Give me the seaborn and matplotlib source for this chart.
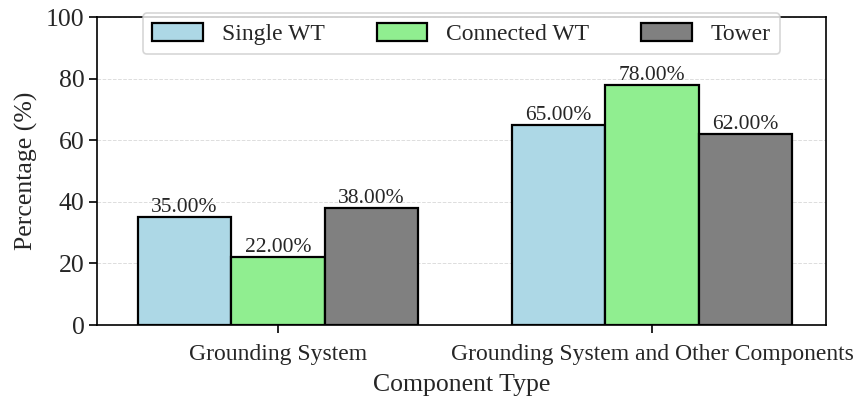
import matplotlib
matplotlib.use("Agg")
import matplotlib.pyplot as plt
import seaborn as sns
import pandas as pd

categories = ["Grounding System", "Grounding System and Other Components"]
series_names = ["Single WT", "Connected WT", "Tower"]
single_wt = [35, 65]
connected_wt = [22, 78]
tower = [38, 62]
colors = ["#ADD8E6", "#90EE90", "#808080"]

rows = []
for name, vals in zip(series_names, [single_wt, connected_wt, tower]):
    for c, v in zip(categories, vals):
        rows.append({"Component Type": c, "Series": name, "Percentage": v})
df = pd.DataFrame(rows)

sns.set_theme(style="white")
plt.rcParams["font.family"] = ["Liberation Serif", "DejaVu Serif"]

fig = plt.figure(figsize=(8.6, 4.01), dpi=100)
ax = fig.add_axes([97/860, 1 - 325/401, (826-97)/860, (325-17)/401])

sns.barplot(data=df, x="Component Type", y="Percentage", hue="Series",
            hue_order=series_names, palette=colors, order=categories,
            saturation=1, width=0.75, edgecolor="black", linewidth=1.6,
            ax=ax, zorder=3)

for cont in ax.containers:
    ax.bar_label(cont, fmt="%.2f%%", fontsize=15.5, padding=0)

ax.set_ylim(0, 100)
ax.set_xlim(-0.484, 1.465)
ax.set_yticks([0, 20, 40, 60, 80, 100])
ax.yaxis.grid(True, linestyle="--", color="#dddddd", linewidth=0.7, zorder=0)
ax.set_axisbelow(True)
ax.tick_params(axis="both", length=6, width=1.2, color="black",
               bottom=True, left=True, pad=3)
ax.tick_params(axis="y", labelsize=18.5)
ax.tick_params(axis="x", labelsize=17, pad=8)
ax.set_xlabel("Component Type", fontsize=18.5, labelpad=6)
ax.set_ylabel("Percentage (%)", fontsize=18.5, labelpad=6)
for s in ax.spines.values():
    s.set_color("black")
    s.set_linewidth(1.2)

leg = ax.legend(loc="upper center", bbox_to_anchor=(0.5, 1.012), ncol=3,
                fontsize=17, frameon=True, fancybox=True, title=None,
                columnspacing=2.2, handlelength=2.15, handleheight=0.8,
                handletextpad=0.8, borderpad=0.4, borderaxespad=0.0)
leg.get_frame().set_edgecolor("#cccccc")
leg.get_frame().set_linewidth(1.2)

fig.savefig("out.png", dpi=100)
